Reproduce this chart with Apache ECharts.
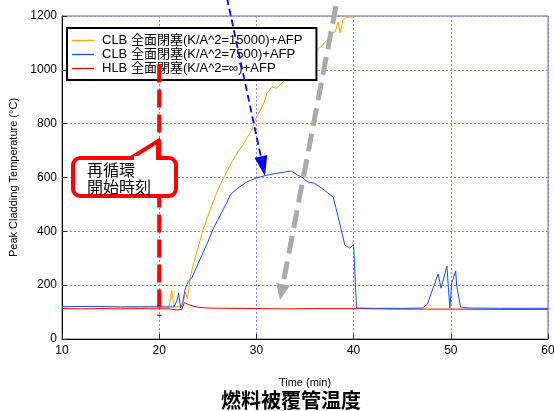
<!DOCTYPE html>
<html><head><meta charset="utf-8">
<script src="https://cdn.jsdelivr.net/npm/echarts@6/dist/echarts.min.js"></script>
<style>html,body{margin:0;padding:0;background:#fff}#c{width:554px;height:411px}</style>
</head><body><div id="c"></div>
<script>
// ---- data ----
const seriesNames = ['CLB 全面閉塞(K/A^2=15000)+AFP', 'CLB 全面閉塞(K/A^2=7500)+AFP', 'HLB 全面閉塞(K/A^2=∞)+AFP'];
const xTitle = 'Time (min)';
const yTitle = 'Peak Cladding Temperature (°C)';
const chartTitle = '燃料被覆管温度';
const calloutText = '再循環\n開始時刻';
const recircTime = 20;

const t15000 = [10, 13, 16, 19, 21, 21.3, 21.5, 22.3, 22.5, 22.7, 22.9, 23.0, 23.2, 23.5, 24, 24.5, 25, 25.5, 26, 26.5, 27, 27.6, 28, 28.6, 29, 29.5, 30, 30.3, 30.7, 31.1, 31.6, 32.1, 32.6, 33.5, 34.5, 35.5, 36.5, 37, 37.3, 37.6, 38.1, 38.4, 38.6, 38.9, 39.3, 39.9, 40];
const v15000 = [120, 121, 120, 119, 119, 182, 120, 120, 140, 175, 150, 175, 230, 275, 340, 405, 455, 505, 550, 590, 625, 665, 690, 720, 745, 776, 825, 843, 870, 913, 936, 932, 950, 980, 1010, 1045, 1081, 1100, 1111, 1137, 1141, 1178, 1137, 1185, 1196, 1196, 1200];

const t7500 = [10, 13, 16, 19, 21.5, 21.8, 22.0, 22.2, 22.4, 22.7, 23.0, 23.4, 24, 25, 25.5, 26, 27, 27.3, 28, 29, 30, 31, 32, 33, 33.6, 34.2, 34.8, 35.3, 36, 37, 37.9, 38.3, 38.7, 39.1, 39.6, 40.0, 40.3, 42, 45, 47.1, 47.6, 48.1, 48.7, 49.0, 49.6, 49.9, 50.1, 50.5, 50.6, 50.8, 51.0, 51.9, 55, 60];
const v7500 = [120, 121, 119, 120, 119, 140, 170, 115, 133, 190, 215, 230, 280, 360, 405, 440, 510, 535, 558, 583, 598, 608, 615, 621, 624, 610, 598, 583, 578, 553, 527, 470, 410, 349, 338, 350, 115, 114, 114, 115, 130, 182, 241, 189, 271, 115, 208, 252, 200, 204, 119, 115, 114, 114];

const tInf = [10, 12, 14, 16, 18, 20, 21, 21.8, 22.3, 22.6, 23, 23.5, 24, 25, 27, 30, 33, 36, 40, 45, 50, 55, 60];
const vInf = [113, 112, 113, 112, 113, 112, 112, 108, 110, 135, 128, 122, 118, 115, 114, 113, 112, 113, 113, 111, 111, 110, 110];

const colors = ['#ffa500', '#1a4dff', '#ff0000'];

function pairs(t, v) { return t.map((x, i) => [x, v[i]]); }

const chart = echarts.init(document.getElementById('c'), null, {renderer: 'canvas'});
const font = "'Liberation Sans', 'Noto Sans CJK JP', sans-serif";
const lineIcon = 'path://M0,0 L22,0 L22,1.3 L0,1.3 Z';

const option = {
  animation: false,
  backgroundColor: '#fff',
  textStyle: {fontFamily: font},
  grid: {left: 62, right: 6, top: 16, bottom: 72, outerBoundsMode: 'none', containLabel: false, show: true, borderColor: '#666', borderWidth: 1, backgroundColor: 'transparent'},
  title: {text: chartTitle, left: 216, top: 385, textStyle: {fontSize: 20, fontWeight: 'bold', color: '#000', fontFamily: "'Noto Sans CJK JP', sans-serif"}},
  legend: {
    orient: 'vertical', left: 67, top: 28, padding: [6, 14, 5, 5],
    backgroundColor: '#fff', borderColor: '#000', borderWidth: 2,
    itemWidth: 22, itemHeight: 12, itemGap: 1, symbolKeepAspect: true,
    textStyle: {fontSize: 13, color: '#000', fontFamily: font, padding: [0, 0, 0, 3]},
    data: seriesNames.map(n => ({name: n, icon: lineIcon})), z: 5
  },
  xAxis: {
    type: 'value', min: 10, max: 60, interval: 10,
    name: xTitle, nameLocation: 'middle', nameGap: 38,
    nameTextStyle: {fontSize: 11, color: '#000'},
    axisLine: {show: true, lineStyle: {color: '#000', width: 1}},
    axisTick: {show: true, inside: true, length: 5, lineStyle: {color: '#333'}},
    axisLabel: {fontSize: 12, color: '#000', margin: 6},
    splitLine: {show: true, lineStyle: {color: '#8c8cff', type: [2, 2], width: 1}}
  },
  yAxis: {
    type: 'value', min: 0, max: 1200, interval: 200,
    name: yTitle, nameLocation: 'middle', nameGap: 37, nameRotate: 90,
    nameTextStyle: {fontSize: 11, color: '#000'},
    axisLine: {show: true, lineStyle: {color: '#000', width: 1}},
    axisTick: {show: true, inside: true, length: 5, lineStyle: {color: '#333'}},
    axisLabel: {fontSize: 12, color: '#000', margin: 5, formatter: v => String(v)},
    splitLine: {show: true, lineStyle: {color: '#8c8cff', type: [2, 2], width: 1}}
  },
  series: [
    {name: seriesNames[0], type: 'line', data: pairs(t15000, v15000), symbol: 'none', lineStyle: {color: colors[0], width: 1}, itemStyle: {color: colors[0]}, z: 2},
    {name: seriesNames[1], type: 'line', data: pairs(t7500, v7500), symbol: 'none', lineStyle: {color: colors[1], width: 1}, itemStyle: {color: colors[1]}, z: 3},
    {name: seriesNames[2], type: 'line', data: pairs(tInf, vInf), symbol: 'none', lineStyle: {color: colors[2], width: 1}, itemStyle: {color: colors[2]}, z: 2}
  ]
};
chart.setOption(option);

function arrow(x1, y1, x2, y2, color, width, dash, headLen, headW) {
  const dx = x2 - x1, dy = y2 - y1, L = Math.hypot(dx, dy);
  const ux = dx / L, uy = dy / L, px = -uy, py = ux;
  const bx = x2 - ux * headLen, by = y2 - uy * headLen;
  return [
    {type: 'line', z: 100, shape: {x1, y1, x2: bx, y2: by}, style: {stroke: color, lineWidth: width, lineDash: dash}},
    {type: 'polygon', z: 100, shape: {points: [[x2, y2], [bx + px * headW / 2, by + py * headW / 2], [bx - px * headW / 2, by - py * headW / 2]]}, style: {fill: color}}
  ];
}

const pTop = chart.convertToPixel({gridIndex: 0}, [recircTime, 1020]);
const pBot = chart.convertToPixel({gridIndex: 0}, [recircTime, 85]);

const graphics = [
  {type: 'line', z: 100, shape: {x1: pTop[0], y1: pTop[1], x2: pBot[0], y2: pBot[1]}, style: {stroke: '#ff0000', lineWidth: 4, lineDash: [18, 7]}},
  ...arrow(227, -2, 265, 176, '#0000ff', 1.8, [7, 4], 20, 13),
  ...arrow(336, 6, 280, 300, '#aaaaaa', 5, [18, 8], 16, 14),
  {type: 'rect', z: 100, shape: {x: 73, y: 158, width: 103, height: 38, r: 7}, style: {fill: '#fff', stroke: '#ff0000', lineWidth: 4}},
  {type: 'polygon', z: 101, shape: {points: [[131, 158], [158, 141], [158, 158]]}, style: {fill: '#fff', stroke: '#ff0000', lineWidth: 4, lineJoin: 'miter'}},
  {type: 'rect', z: 102, shape: {x: 134, y: 156, width: 22, height: 6}, style: {fill: '#fff'}},
  {type: 'text', z: 103, style: {x: 87, y: 161, text: calloutText, fontSize: 16, lineHeight: 17, fill: '#000', fontFamily: "'Noto Sans CJK JP', sans-serif"}}
];
chart.setOption({graphic: graphics});
</script></body></html>
